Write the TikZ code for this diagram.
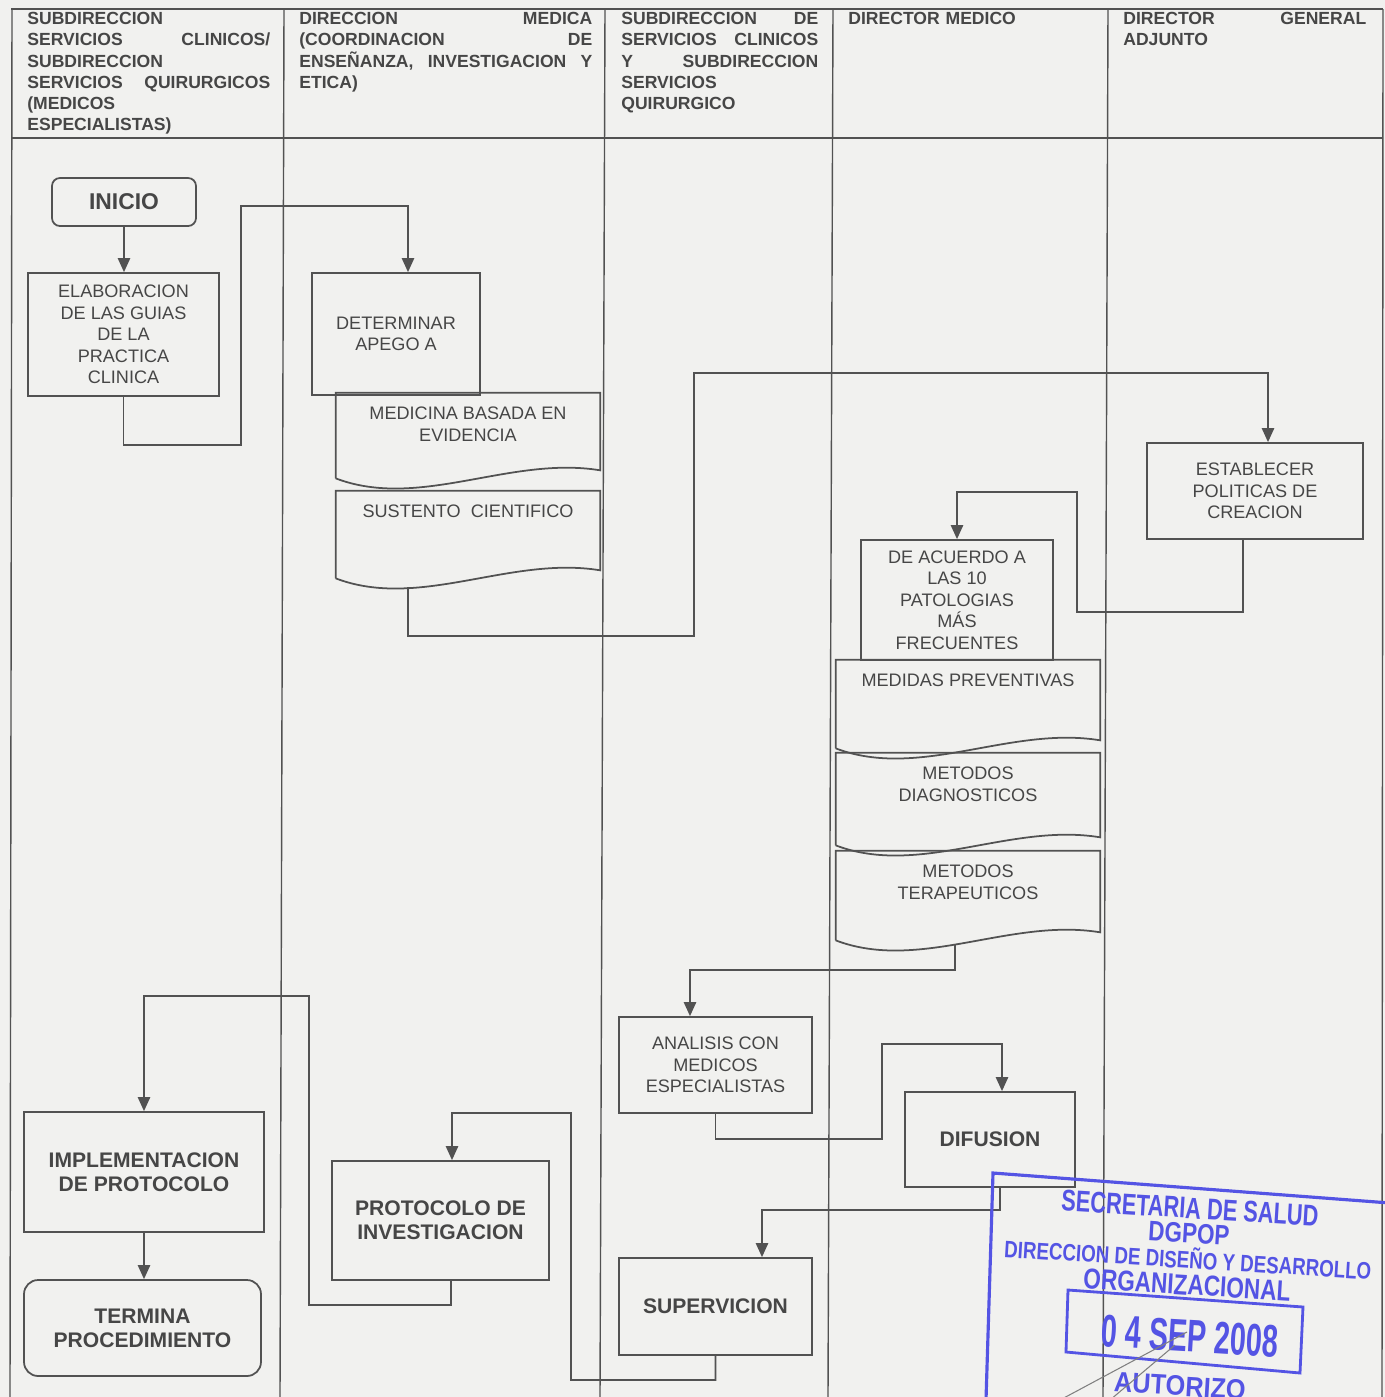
\documentclass[tikz,border=0pt]{standalone}
\usepackage{fontspec}
\usepackage{graphicx}
\setmainfont{Liberation Sans}
\usetikzlibrary{arrows.meta,calc,positioning}
\definecolor{bg}{RGB}{241,241,239}
\definecolor{ln}{RGB}{82,82,82}
\definecolor{tx}{RGB}{70,70,70}
\definecolor{stampblue}{RGB}{84,84,228}
\newcommand{\jgap}{\hskip 0pt plus 1filll\relax}
% outline of a document box, wavy bottom
\newcommand{\docline}[1]{%
	\draw[box] (#1.south west) -- (#1.north west) -- (#1.north east) -- ($(#1.south east)+(0,-8)$)
		.. controls ($(#1.south east)+(-90,-23)$) and ($(#1.south west)+(84,32)$) .. (#1.south west);}
\newcommand{\stamptext}[2]{\scalebox{#1}[1]{#2}}

\begin{document}
\begin{tikzpicture}[x=0.02cm,y=-0.02cm,
	box/.style={draw=ln,line width=1pt},
	grid/.style={draw=ln,line width=0.8pt},
	hd/.style={anchor=north west,inner sep=0,align=left,text=tx,font=\fontsize{10}{12.1}\selectfont\bfseries},
	proc/.style={box,rectangle,align=center,inner sep=2pt,text=tx,font=\fontsize{10.3}{12.2}\selectfont},
	bproc/.style={proc,font=\fontsize{12}{13.8}\selectfont\bfseries},
	docbox/.style={rectangle,minimum width=5.28cm,minimum height=#1,inner sep=0},
	doctxt/.style={anchor=north,inner sep=0,yshift=-0.28cm,align=center,text=tx,font=\fontsize{10.3}{12.2}\selectfont},
	flow/.style={draw=ln,line width=1pt,-{Triangle[length=8pt,width=7pt]}},
	stamp/.style={inner sep=0,rotate=-3.5,text=stampblue}]
	\useasboundingbox (0,0) rectangle (1385,1397);
	\fill[bg] (0,0) rectangle (1385,1397);

	% table
	\draw[grid] (11,9) -- (1383,9);
	\draw[grid] (11,138) -- (1383,138);
	\draw[grid] (12,9) -- (10,1397);
	\draw[grid] (284,9) -- (280,1397);
	\draw[grid] (605,9) -- (600,1397);
	\draw[grid] (833,9) -- (828,1397);
	\draw[grid] (1108,9) -- (1103,1397);
	\draw[grid] (1383,9) -- (1382,1397);

	\node[hd,text width=4.86cm] (h1) at (27,12) {SUBDIRECCION\\SERVICIOS\jgap CLINICOS/\\SUBDIRECCION\\SERVICIOS\jgap QUIRURGICOS\\(MEDICOS\\ESPECIALISTAS)};
	\node[hd,text width=5.86cm] (h2) at (299,12) {DIRECCION\jgap MEDICA\\(COORDINACION\jgap DE\\ENSEÑANZA,\jgap INVESTIGACION\jgap Y\\ETICA)};
	\node[hd,text width=3.94cm] (h3) at (621,12) {SUBDIRECCION\jgap DE\\SERVICIOS\jgap CLINICOS\\Y\jgap SUBDIRECCION\\SERVICIOS\\QUIRURGICO};
	\node[hd,text width=5cm] (h4) at (848,12) {DIRECTOR MEDICO};
	\node[hd,text width=4.86cm] (h5) at (1123,12) {DIRECTOR\jgap GENERAL\\ADJUNTO};

	% steps
	\node[proc,rounded corners=4.5pt,minimum width=2.88cm,minimum height=0.96cm,font=\fontsize{13}{15}\selectfont\bfseries] (ini) at (124,202) {INICIO};
	\node[proc,minimum width=3.82cm,minimum height=2.46cm] (elab) at (123.5,334.5) {ELABORACION\\DE LAS GUIAS\\DE LA\\PRACTICA\\CLINICA};
	\node[proc,minimum width=3.36cm,minimum height=2.44cm] (det) at (396,334) {DETERMINAR\\APEGO A};
	\node[docbox=1.7cm,label={[doctxt]north:{MEDICINA BASADA EN\\EVIDENCIA}}] (med) at (468,435.5) {};
	\docline{med}
	\node[docbox=1.74cm,label={[doctxt]north:{SUSTENTO~~CIENTIFICO}}] (sus) at (468,534.5) {};
	\docline{sus}
	\node[proc,minimum width=4.32cm,minimum height=1.92cm] (est) at (1255,491) {ESTABLECER\\POLITICAS DE\\CREACION};
	\node[proc,minimum width=3.84cm,minimum height=2.4cm] (acu) at (957,600) {DE ACUERDO A\\LAS 10\\PATOLOGIAS\\MÁS\\FRECUENTES};
	\node[docbox=1.76cm,label={[doctxt]north:{MEDIDAS PREVENTIVAS}}] (prev) at (968,704) {};
	\docline{prev}
	\node[docbox=1.84cm,label={[doctxt]north:{METODOS\\DIAGNOSTICOS}}] (diag) at (968,799) {};
	\docline{diag}
	\node[docbox=1.78cm,label={[doctxt]north:{METODOS\\TERAPEUTICOS}}] (ter) at (968,895.5) {};
	\docline{ter}
	\node[proc,minimum width=3.86cm,minimum height=1.92cm] (ana) at (715.5,1065) {ANALISIS CON\\MEDICOS\\ESPECIALISTAS};
	\node[bproc,minimum width=3.4cm,minimum height=1.9cm] (dif) at (990,1139.5) {DIFUSION};
	\node[bproc,minimum width=3.86cm,minimum height=1.94cm] (sup) at (715.5,1306.5) {SUPERVICION};
	\node[bproc,minimum width=4.34cm,minimum height=2.38cm] (prot) at (440.5,1220.5) {PROTOCOLO DE\\INVESTIGACION};
	\node[bproc,minimum width=4.8cm,minimum height=2.4cm] (impl) at (144,1172) {IMPLEMENTACION\\DE PROTOCOLO};
	\node[bproc,rounded corners=8pt,minimum width=4.74cm,minimum height=1.92cm] (fin) at (142.5,1328) {TERMINA\\PROCEDIMIENTO};

	% connectors
	\draw[flow] (ini.south) -- (ini.south |- elab.north);
	\draw[flow] (elab.south) -- ++(0,48) -| (241,206) -| ($(det.north)+(12,0)$);
	\draw[flow] ($(sus.south west)+(72,9)$) |- (694,636) |- (1268,373) -- ($(est.north)+(13,0)$);
	\draw[flow] ($(est.south)+(-12,0)$) |- (1077,612) -- ++(0,-120) -| (acu.north);
	\draw[flow] ($(ter.south west)+(119,5)$) |- (690,970) -- ($(ana.north)+(-25.5,0)$);
	\draw[flow] (ana.south) |- (882,1139) |- (1002,1044) -- ($(dif.north)+(12,0)$);
	\draw[flow] ($(dif.south)+(10,0)$) |- (762,1210) -- ($(sup.north)+(46.5,0)$);
	\draw[flow] (sup.south) |- (571,1380) |- (452,1113) -- ($(prot.north)+(11.5,0)$);
	\draw[flow] ($(prot.south)+(10.5,0)$) |- (309,1305) |- (144,996) -- (impl.north);
	\draw[flow] (impl.south) -- (impl.south |- fin.north);

	% stamp
	\begin{scope}
		\clip (0,0) rectangle (1385,1397);
		\draw[stampblue,line width=1.8pt] (986,1400) -- (993,1173) -- (1390,1203);
		\draw[stampblue,line width=1.6pt] (1068,1290) -- (1303,1307) -- (1300,1373) -- (1066,1352) -- cycle;
		\node[stamp,font=\fontsize{17}{18}\selectfont\bfseries] (s1) at (1190,1208) {\stamptext{0.73}{SECRETARIA DE SALUD}};
		\node[stamp,font=\fontsize{16}{18}\selectfont\bfseries] (s2) at (1189,1233) {\stamptext{0.8}{DGPOP}};
		\node[stamp,font=\fontsize{13.5}{15}\selectfont\bfseries] (s3) at (1188,1258) {\stamptext{0.79}{DIRECCION DE DISEÑO Y DESARROLLO}};
		\node[stamp,font=\fontsize{16.4}{18}\selectfont\bfseries] (s4) at (1187,1285) {\stamptext{0.785}{ORGANIZACIONAL}};
		\node[stamp,font=\fontsize{26}{28}\selectfont\bfseries] (s5) at (1190,1336) {\stamptext{0.63}{0 4 SEP 2008}};
		\node[stamp,font=\fontsize{16}{18}\selectfont\bfseries] (s6) at (1180,1386) {\stamptext{0.9}{AUTORIZO}};
		\draw[gray,line width=0.6pt] (1187,1332) -- (1060,1400);
		\draw[gray,line width=0.6pt] (1175,1345) -- (1110,1400);
	\end{scope}
\end{tikzpicture}
\end{document}
